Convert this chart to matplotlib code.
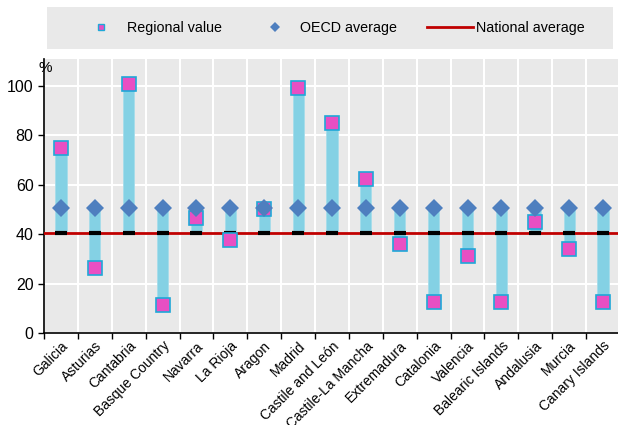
import matplotlib
matplotlib.use('Agg')
import matplotlib.pyplot as plt
from matplotlib import font_manager
from matplotlib.lines import Line2D
from matplotlib.patches import Rectangle
import numpy as np

regions = ['Galicia', 'Asturias', 'Cantabria', 'Basque Country', 'Navarra',
           'La Rioja', 'Aragon', 'Madrid', 'Castile and León', 'Castile-La Mancha',
           'Extremadura', 'Catalonia', 'Valencia', 'Balearic Islands', 'Andalusia',
           'Murcia', 'Canary Islands']
regional = [75.0, 26.5, 100.9, 11.4, 46.5, 37.7, 50.4, 98.9, 84.9, 62.2,
            35.9, 12.7, 31.2, 12.7, 45.1, 33.9, 12.7]
oecd = [50.5] * len(regions)
national = [40.4] * len(regions)

installed = {f.name for f in font_manager.fontManager.ttflist}
if 'Liberation Sans Narrow' in installed:
    plt.rcParams['font.family'] = ['Liberation Sans Narrow', 'DejaVu Sans']
else:
    plt.rcParams['font.family'] = ['Liberation Sans', 'DejaVu Sans']

BG = '#e9e9e9'
BAR = '#84d1e4'
SQ_FACE = '#e84fc3'
SQ_EDGE = '#1fa8d8'
DIAMOND = '#4e7fbf'
RED = '#c00000'

fig = plt.figure(figsize=(6.18, 4.25), dpi=100)
ax = fig.add_axes([44 / 618, 1 - 333.3 / 425, 576 / 618, 273.8 / 425])
ax.set_facecolor(BG)

x = np.arange(len(regions))
lo = np.minimum(np.minimum(regional, oecd), national)
hi = np.maximum(np.maximum(regional, oecd), national)

ax.bar(x, hi - lo, bottom=lo, width=0.33, color=BAR, edgecolor='#a6dcea',
       linewidth=0.6, zorder=2)
ax.axhline(national[0], color=RED, lw=2, zorder=3)
ax.plot(x, national, ls='none', marker='_', color='black', ms=8, mew=3, zorder=4)
ax.plot(x, regional, ls='none', marker='s', ms=9.4, mfc=SQ_FACE, mec=SQ_EDGE,
        mew=1.2, zorder=5)
ax.plot(x, oecd, ls='none', marker='D', ms=9, color=DIAMOND, mew=0, zorder=6)

ax.set_xlim(-0.5, len(regions) - 0.5)
ax.set_ylim(0, 110.6)
ax.set_yticks([0, 20, 40, 60, 80, 100])
ax.set_xticks(x)
ax.set_xticks(np.arange(len(regions) + 1) - 0.5, minor=True)
ax.set_xticklabels(regions, rotation=45, ha='right', rotation_mode='anchor')
ax.tick_params(axis='x', which='major', length=0, pad=4, labelsize=10)
ax.tick_params(axis='x', which='minor', length=4, width=1, direction='out')
ax.tick_params(axis='y', length=4, width=1, labelsize=11.5)

ax.grid(axis='y', color='white', lw=1.5, zorder=0)
ax.grid(axis='x', which='minor', color='white', lw=1.5, zorder=0)
ax.set_axisbelow(True)

for s in ['top', 'right']:
    ax.spines[s].set_visible(False)
for s in ['left', 'bottom']:
    ax.spines[s].set_linewidth(1.2)
    ax.spines[s].set_color('black')

ax.text(0.003, 0.995, '%', transform=ax.transAxes, ha='center', va='top',
        fontsize=11)

# legend box
fig.patches.append(Rectangle((47 / 618, 1 - 49 / 425), 566 / 618, 42 / 425,
                             transform=fig.transFigure, facecolor=BG,
                             edgecolor='none', zorder=0))
handles = [
    Line2D([], [], ls='none', marker='s', ms=5, mfc=SQ_FACE, mec=SQ_EDGE, mew=1),
    Line2D([], [], ls='none', marker='D', ms=5, color=DIAMOND, mew=0),
    Line2D([], [], color=RED, lw=2),
]
labels = ['Regional value', 'OECD average', 'National average']
fig.legend(handles, labels, loc='center', ncol=3,
           bbox_to_anchor=(331.5 / 618, 1 - 28 / 425),
           frameon=False, fontsize=10.3, handlelength=3.2, handletextpad=0.2,
           columnspacing=2.1, borderaxespad=0, borderpad=0)

fig.savefig('out.png', dpi=100)
